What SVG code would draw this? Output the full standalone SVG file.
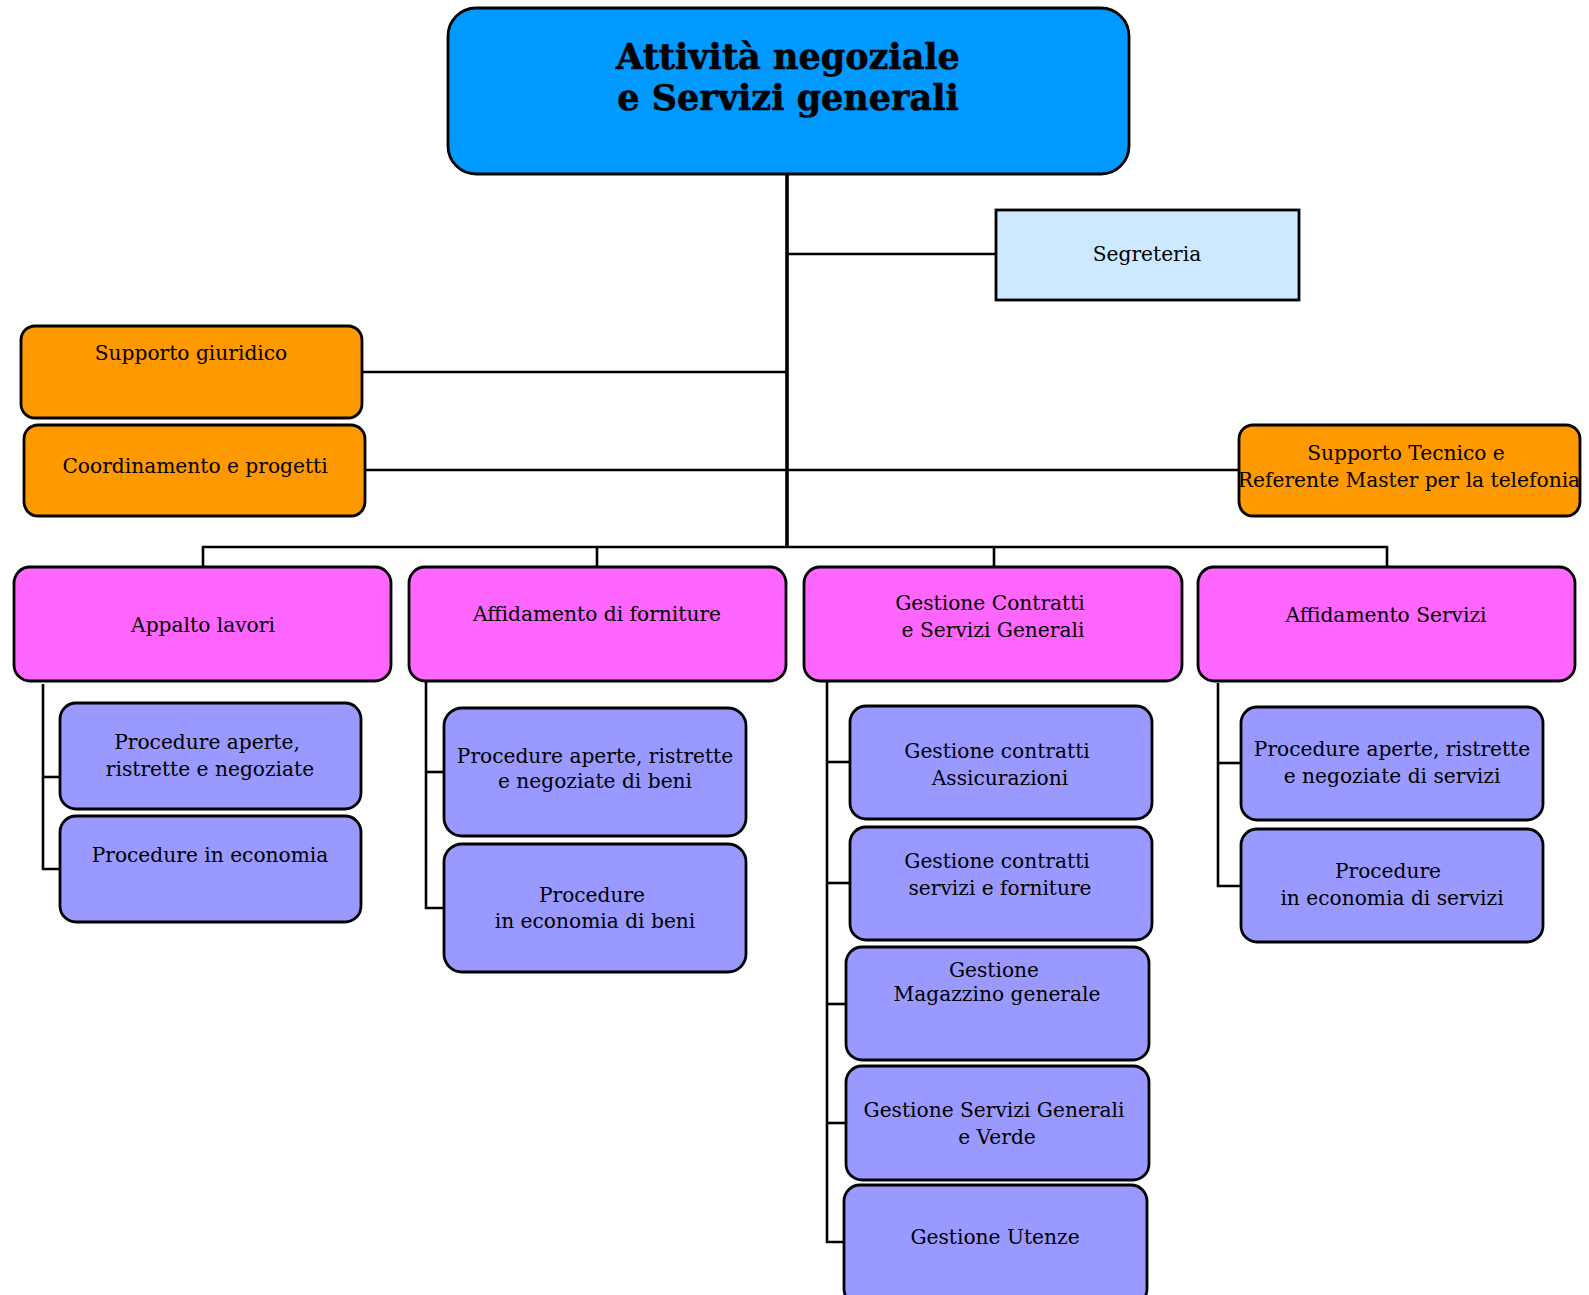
<svg xmlns="http://www.w3.org/2000/svg" width="1589" height="1295" viewBox="0 0 1589 1295">
  <style>
    .box { stroke: #000; stroke-width: 2.8; }
    .top { fill: #0099FF; }
    .seg { fill: #CCE9FF; }
    .staff { fill: #FF9900; }
    .area { fill: #FF66FF; }
    .unit { fill: #9999FF; }
    text { font-family: "DejaVu Serif", "Liberation Serif", serif; font-size: 20.2px; fill: #000; text-anchor: middle; }
    .title { font-weight: bold; font-size: 35px; stroke: #000; stroke-width: 0.6; }
    .wire { stroke: #000; stroke-width: 2.6; fill: none; }
    .trunk { stroke: #000; stroke-width: 3.6; fill: none; }
  </style>

  <!-- connectors -->
  <g id="connectors">
    <line class="trunk" x1="787" y1="174" x2="787" y2="547"/>
    <line class="wire" x1="787" y1="254" x2="996" y2="254"/>
    <line class="wire" x1="362" y1="372" x2="787" y2="372"/>
    <line class="wire" x1="365" y1="470" x2="1239" y2="470"/>
    <polyline class="wire" points="203,567 203,547 1387,547 1387,567"/>
    <line class="wire" x1="597" y1="547" x2="597" y2="567"/>
    <line class="wire" x1="994" y1="547" x2="994" y2="567"/>
    <!-- Appalto lavori -->
    <polyline class="wire" points="43,684 43,869 60,869"/>
    <line class="wire" x1="43" y1="777" x2="60" y2="777"/>
    <!-- Affidamento di forniture -->
    <polyline class="wire" points="426,681 426,908 444,908"/>
    <line class="wire" x1="426" y1="772" x2="444" y2="772"/>
    <!-- Gestione Contratti e Servizi Generali -->
    <polyline class="wire" points="827,681 827,1242 844,1242"/>
    <line class="wire" x1="827" y1="762" x2="850" y2="762"/>
    <line class="wire" x1="827" y1="883" x2="850" y2="883"/>
    <line class="wire" x1="827" y1="1004" x2="846" y2="1004"/>
    <line class="wire" x1="827" y1="1123" x2="846" y2="1123"/>
    <!-- Affidamento Servizi -->
    <polyline class="wire" points="1218,683 1218,886 1241,886"/>
    <line class="wire" x1="1218" y1="763" x2="1241" y2="763"/>
  </g>

  <g id="n-direzione">
    <rect class="box top" x="448" y="8" width="681" height="166" rx="28"/>
    <text class="title" x="788" y="69">Attività negoziale</text>
    <text class="title" x="788" y="110">e Servizi generali</text>
  </g>

  <g id="n-segreteria">
    <rect class="box seg" x="996" y="210" width="303" height="90"/>
    <text x="1147" y="261">Segreteria</text>
  </g>

  <g id="n-supporto-giuridico">
    <rect class="box staff" x="21" y="326" width="341" height="92" rx="14"/>
    <text x="191" y="360">Supporto giuridico</text>
  </g>

  <g id="n-coordinamento">
    <rect class="box staff" x="24" y="425" width="341" height="91" rx="14"/>
    <text x="195" y="473">Coordinamento e progetti</text>
  </g>

  <g id="n-supporto-tecnico">
    <rect class="box staff" x="1239" y="425" width="341" height="91" rx="14"/>
    <text x="1406" y="460">Supporto Tecnico e</text>
    <text x="1409" y="487">Referente Master per la telefonia</text>
  </g>

  <g id="n-appalto-lavori">
    <rect class="box area" x="14" y="567" width="377" height="114" rx="16"/>
    <text x="203" y="632">Appalto lavori</text>
  </g>

  <g id="n-affidamento-forniture">
    <rect class="box area" x="409" y="567" width="377" height="114" rx="16"/>
    <text x="597" y="621">Affidamento di forniture</text>
  </g>

  <g id="n-gestione-contratti">
    <rect class="box area" x="804" y="567" width="378" height="114" rx="16"/>
    <text x="990" y="610">Gestione Contratti</text>
    <text x="993" y="637">e Servizi Generali</text>
  </g>

  <g id="n-affidamento-servizi">
    <rect class="box area" x="1198" y="567" width="377" height="114" rx="16"/>
    <text x="1386" y="622">Affidamento Servizi</text>
  </g>

  <g id="n-lavori-aperte">
    <rect class="box unit" x="60" y="703" width="301" height="106" rx="16"/>
    <text x="207" y="749">Procedure aperte,</text>
    <text x="210" y="776">ristrette e negoziate</text>
  </g>

  <g id="n-lavori-economia">
    <rect class="box unit" x="60" y="816" width="301" height="106" rx="16"/>
    <text x="210" y="862">Procedure in economia</text>
  </g>

  <g id="n-beni-aperte">
    <rect class="box unit" x="444" y="708" width="302" height="128" rx="18"/>
    <text x="595" y="763">Procedure aperte, ristrette</text>
    <text x="595" y="788">e negoziate di beni</text>
  </g>

  <g id="n-beni-economia">
    <rect class="box unit" x="444" y="844" width="302" height="128" rx="18"/>
    <text x="592" y="902">Procedure</text>
    <text x="595" y="928">in economia di beni</text>
  </g>

  <g id="n-assicurazioni">
    <rect class="box unit" x="850" y="706" width="302" height="113" rx="16"/>
    <text x="997" y="758">Gestione contratti</text>
    <text x="1000" y="785">Assicurazioni</text>
  </g>

  <g id="n-servizi-forniture">
    <rect class="box unit" x="850" y="827" width="302" height="113" rx="16"/>
    <text x="997" y="868">Gestione contratti</text>
    <text x="1000" y="895">servizi e forniture</text>
  </g>

  <g id="n-magazzino">
    <rect class="box unit" x="846" y="947" width="303" height="113" rx="16"/>
    <text x="994" y="977">Gestione</text>
    <text x="997" y="1001">Magazzino generale</text>
  </g>

  <g id="n-servizi-verde">
    <rect class="box unit" x="846" y="1066" width="303" height="114" rx="16"/>
    <text x="994" y="1117">Gestione Servizi Generali</text>
    <text x="997" y="1144">e Verde</text>
  </g>

  <g id="n-utenze">
    <rect class="box unit" x="844" y="1185" width="303" height="120" rx="16"/>
    <text x="995" y="1244">Gestione Utenze</text>
  </g>

  <g id="n-servizi-aperte">
    <rect class="box unit" x="1241" y="707" width="302" height="113" rx="16"/>
    <text x="1392" y="756">Procedure aperte, ristrette</text>
    <text x="1392" y="783">e negoziate di servizi</text>
  </g>

  <g id="n-servizi-economia">
    <rect class="box unit" x="1241" y="829" width="302" height="113" rx="16"/>
    <text x="1388" y="878">Procedure</text>
    <text x="1392" y="905">in economia di servizi</text>
  </g>
</svg>
